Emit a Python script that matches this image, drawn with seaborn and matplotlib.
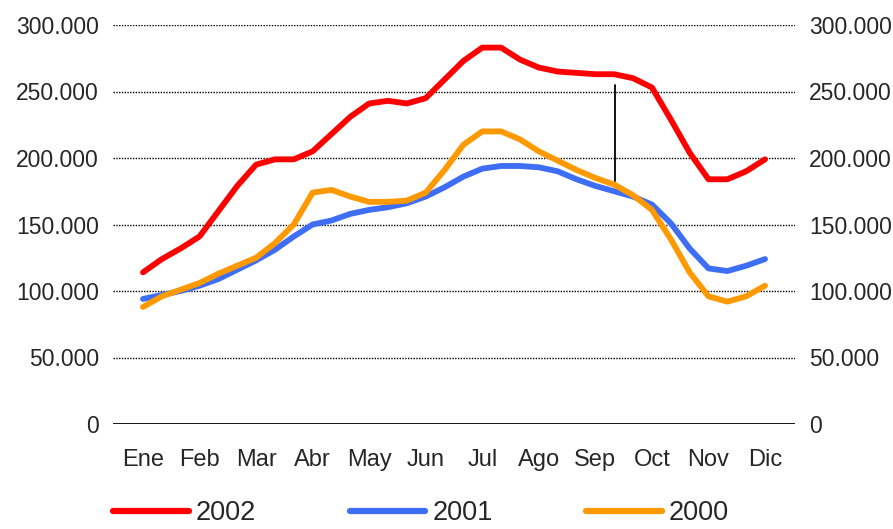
import numpy as np
import pandas as pd
import matplotlib
matplotlib.use("Agg")
import matplotlib.pyplot as plt
import seaborn as sns
from matplotlib.lines import Line2D
from matplotlib.ticker import FuncFormatter

# ==============================
# DATA (miles, tres valores por mes)
# ==============================

months = ["Ene", "Feb", "Mar", "Abr", "May", "Jun",
          "Jul", "Ago", "Sep", "Oct", "Nov", "Dic"]
series_names = ["2002", "2001", "2000"]

v2002 = [114, 124, 132, 141, 160, 179, 195, 199, 199, 205, 218, 231,
         241, 243, 241, 245, 259, 273, 283, 283, 274, 268, 265, 264,
         263, 263, 260, 253, 229, 204, 184, 184, 190, 199]
v2001 = [94, 97, 100, 104, 109, 116, 123, 131, 141, 150, 153, 158,
         161, 163, 166, 171, 178, 186, 192, 194, 194, 193, 190, 184,
         179, 175, 171, 165, 151, 132, 117, 115, 119, 124]
v2000 = [88, 96, 101, 106, 113, 119, 125, 136, 150, 174, 176, 171,
         167, 167, 168, 174, 191, 210, 220, 220, 214, 205, 198, 191,
         185, 180, 172, 161, 139, 114, 96, 92, 96, 104]

colors = ["#ff0000", "#3d6ef5", "#ff9900"]

# marca vertical (anotacion) en Sep
marker_x = 8.35
marker_lo, marker_hi = 183000, 255000

# ==============================
# DATAFRAME
# ==============================

n = len(v2002)
x = np.arange(n) / 3
df = pd.DataFrame({
    "mes": np.tile(x, 3),
    "valor": np.concatenate([v2002, v2001, v2000]) * 1000,
    "serie": np.repeat(series_names, n),
})

# ==============================
# PLOT
# ==============================

sns.set_style("white")
plt.rcParams["font.family"] = ["Liberation Sans", "DejaVu Sans"]

fig = plt.figure(figsize=(8.93, 5.29), dpi=100)
ax = fig.add_axes([113 / 893, 1 - 424 / 529, 682 / 893, 399 / 529])

sns.lineplot(data=df, x="mes", y="valor", hue="serie", hue_order=series_names,
             palette=colors, linewidth=4.2, estimator=None, sort=False,
             legend=False, ax=ax, solid_capstyle="round", zorder=3)

for yv in range(50000, 300001, 50000):
    ax.axhline(yv, color="black", lw=1.0, ls=(0, (1, 1)), zorder=1)
ax.axhline(0, color="black", lw=2, zorder=2)

ax.plot([marker_x, marker_x], [marker_lo, marker_hi], color="black", lw=1.3, zorder=4)

ax.set_xlim(-0.53, 11.53)
ax.set_ylim(0, 300000)
ax.set_xticks(range(12))
ax.set_xticklabels(months)
ax.set_yticks(range(0, 300001, 50000))
ax.yaxis.set_major_formatter(FuncFormatter(lambda v, p: f"{int(v):,}".replace(",", ".")))
ax.tick_params(axis="y", length=0, labelsize=16.5, pad=10, labelright=True)
ax.tick_params(axis="x", length=0, labelsize=17, pad=18)
ax.set_xlabel("")
ax.set_ylabel("")
for s in ax.spines.values():
    s.set_visible(False)

handles = [Line2D([], [], color=c, lw=4.5, solid_capstyle="round") for c in colors]
fig.legend(handles, series_names, loc="center", bbox_to_anchor=(421 / 893, 1 - 513 / 529),
           ncol=3, frameon=False, fontsize=19.5, handlelength=2.8, handletextpad=0.25,
           columnspacing=3.45, borderpad=0)

plt.savefig("out.png", dpi=100)
